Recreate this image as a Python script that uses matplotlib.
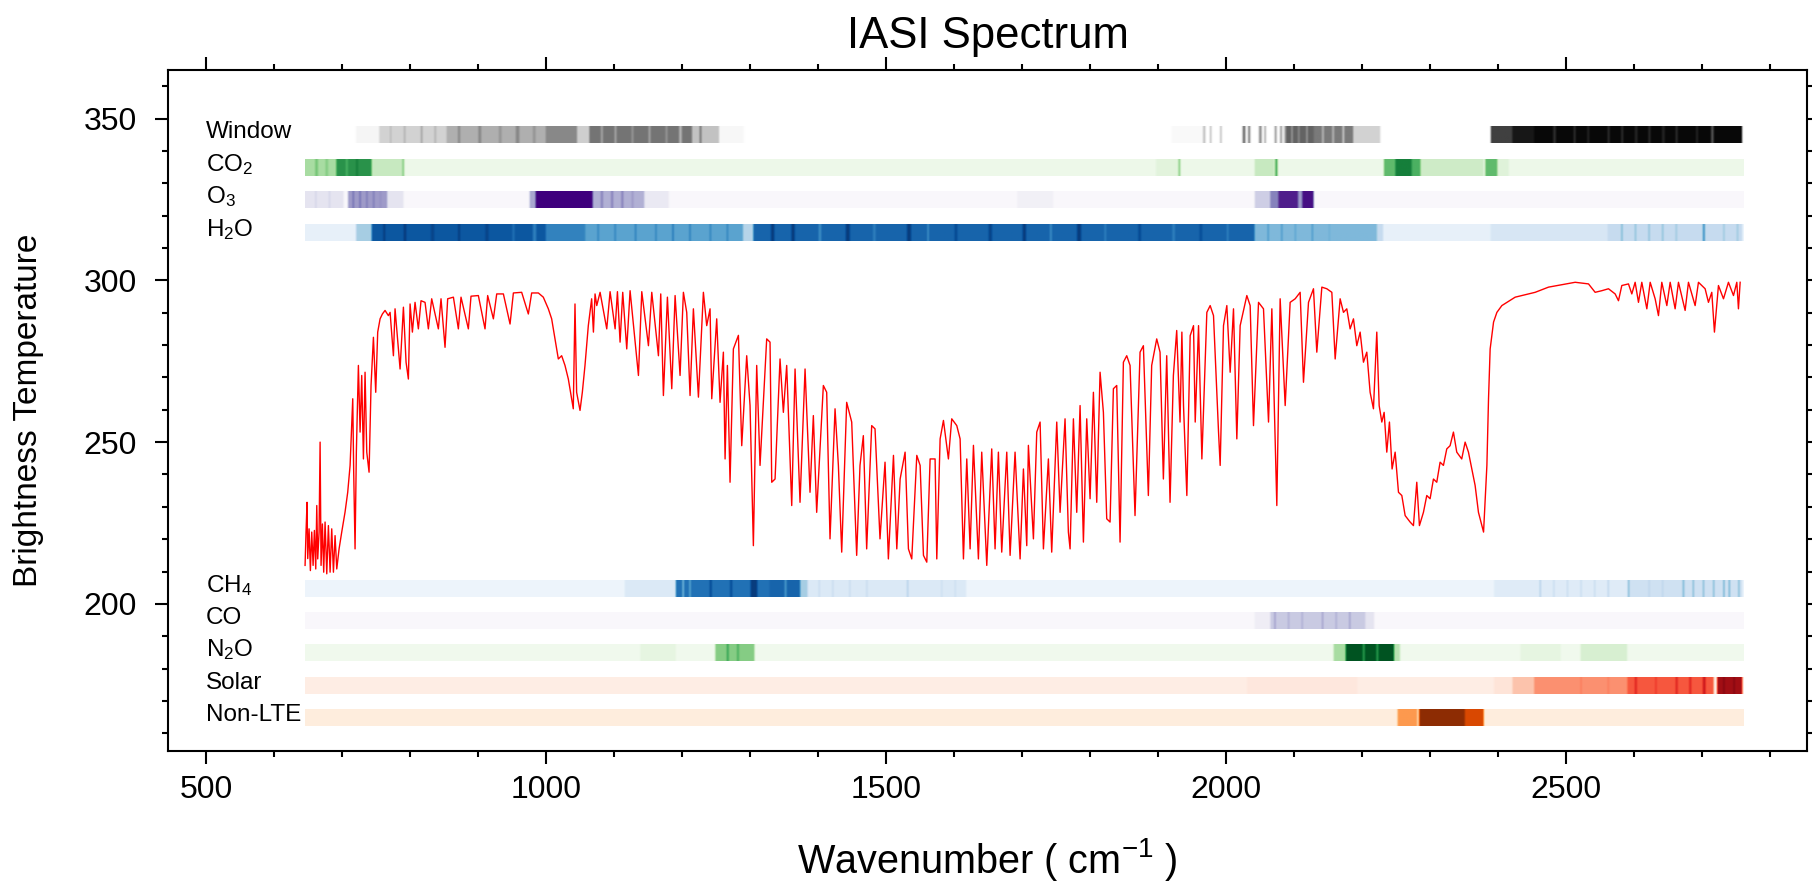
"""IASI brightness-temperature spectrum with gas sensitivity bands."""

import matplotlib

matplotlib.use("Agg")
import matplotlib.pyplot as plt  # noqa: E402
import numpy as np  # noqa: E402
from matplotlib.ticker import MultipleLocator  # noqa: E402

plt.rcParams["font.family"] = ["Liberation Sans", "DejaVu Sans"]
plt.rcParams["mathtext.default"] = "regular"

# spectrum (wavenumber cm-1, brightness temperature K)
wavenumber = [
    645.6, 647.0, 648.5, 649.5, 651.5, 653.4, 655.4, 657.4, 659.3, 661.3, 662.8, 664.2,
    666.2, 667.7, 669.1, 671.1, 673.0, 675.0, 677.5, 679.9, 682.4, 684.8, 687.3, 689.7,
    692.2, 695.6, 699.5, 704.4, 708.3, 711.8, 714.2, 715.7, 717.1, 719.1, 721.0, 724.0,
    726.5, 728.9, 731.4, 733.8, 736.3, 739.7, 742.6, 746.1, 749.5, 752.4, 755.9, 759.3,
    763.2, 768.1, 770.6, 775.5, 777.9, 785.3, 790.2, 794.1, 797.5, 800.0, 803.4, 807.3,
    812.2, 816.1, 822.0, 826.9, 831.8, 841.6, 845.5, 851.4, 855.3, 863.7, 871.0, 874.9,
    885.7, 889.6, 900.4, 910.2, 914.1, 922.5, 927.4, 937.2, 947.0, 951.9, 964.1, 973.9,
    978.8, 988.6, 995.9, 1003.3, 1008.2, 1013.1, 1018.0, 1022.9, 1027.8, 1032.7, 1037.6,
    1040.0, 1042.5, 1044.9, 1049.9, 1053.3, 1057.2, 1062.1, 1067.0,
    1069.6, 1072.0, 1074.5, 1079.4, 1089.2, 1094.1, 1101.5, 1104.9, 1108.8, 1112.7,
    1118.6, 1123.5, 1135.8, 1140.7, 1150.5, 1155.4, 1165.2, 1168.6, 1172.5, 1178.4,
    1184.8, 1189.7, 1197.0, 1201.9, 1206.8, 1211.7, 1216.6, 1224.0, 1231.3, 1236.2,
    1241.1, 1243.6, 1250.9, 1255.8, 1260.7, 1263.2, 1266.6, 1270.5, 1275.4, 1282.8,
    1287.7, 1295.0, 1299.9, 1304.8, 1309.7, 1314.6, 1324.4, 1329.3, 1331.8, 1336.7,
    1344.0, 1348.9, 1353.8, 1361.2, 1366.1, 1373.4, 1380.8, 1388.1, 1393.0, 1397.9,
    1407.7, 1412.6, 1417.5, 1424.9, 1429.8, 1434.7, 1442.0, 1449.4, 1456.7, 1461.6,
    1466.5, 1471.4, 1478.8, 1483.7, 1491.0, 1498.4, 1503.3,
    1510.8, 1515.7, 1520.6, 1527.9, 1532.8, 1537.7, 1545.1, 1550.0, 1554.9, 1559.8,
    1564.7, 1572.0, 1574.5, 1579.4, 1584.3, 1591.6, 1596.5, 1603.9, 1608.8, 1613.7,
    1618.6, 1623.5, 1628.4, 1635.7, 1640.6, 1648.0, 1655.3, 1660.2, 1665.1, 1670.0,
    1677.4, 1682.3, 1689.6, 1697.0, 1701.9, 1706.8, 1709.2, 1716.6, 1721.5, 1726.4,
    1731.3, 1738.6, 1743.5, 1750.9, 1755.8, 1763.1, 1768.0, 1770.5, 1775.4, 1780.3,
    1785.2, 1790.1, 1795.0, 1799.9, 1804.8, 1809.7, 1814.6, 1819.5, 1824.4, 1829.3,
    1834.2, 1839.1, 1844.0, 1848.9, 1853.8, 1858.7, 1866.0, 1873.4, 1878.3, 1885.6,
    1890.5, 1897.9, 1902.8, 1907.7, 1912.6, 1917.5, 1922.4, 1927.3, 1932.2,
    1934.9, 1937.3, 1942.2, 1947.1, 1952.0, 1954.5, 1959.4, 1964.3, 1971.6, 1976.5,
    1981.4, 1988.8, 1991.2, 1996.1, 2001.0, 2005.9, 2010.8, 2015.7, 2020.6, 2030.4,
    2035.3, 2040.2, 2047.6, 2054.9, 2062.3, 2067.2, 2074.5, 2079.4, 2086.8, 2094.1,
    2101.5, 2108.8, 2113.7, 2121.1, 2128.4, 2133.3, 2140.7, 2148.0, 2155.4, 2160.3,
    2167.6, 2172.5, 2177.4, 2182.3, 2187.2, 2192.1, 2197.0, 2201.9, 2206.8, 2211.7,
    2216.6, 2221.5, 2225.0, 2228.9, 2232.3, 2236.2, 2240.1, 2244.0, 2248.5, 2253.4,
    2258.3, 2263.2, 2270.5, 2275.4, 2280.3, 2284.2, 2290.1, 2295.0, 2299.9, 2304.8,
    2309.7, 2314.6, 2319.5, 2324.4, 2329.3, 2334.2, 2339.1, 2346.4, 2351.4, 2356.3,
    2361.2, 2366.1, 2371.0,
    2378.5, 2380.9, 2383.4, 2385.8, 2388.2, 2393.2, 2398.1, 2405.4, 2425.0, 2454.4,
    2474.0, 2513.2, 2532.8, 2542.6, 2552.4, 2562.2, 2572.0, 2576.9, 2581.8, 2591.6,
    2596.5, 2601.4, 2606.3, 2611.2, 2618.6, 2623.5, 2630.8, 2635.7, 2640.6, 2648.0,
    2652.9, 2660.2, 2665.1, 2674.9, 2679.8, 2689.6, 2694.5, 2704.3, 2709.2, 2714.1,
    2718.0, 2723.9, 2731.3, 2738.6, 2746.0, 2750.9, 2753.3, 2755.8,
]
brightness_temp = [
    211.9, 222.2, 231.4, 214.0, 223.2, 210.3, 222.2, 211.9, 222.7, 210.8, 230.4, 213.9,
    222.2, 250.0, 211.9, 224.7, 209.8, 225.3, 209.3, 224.2, 209.8, 223.2, 209.8, 221.1,
    210.8, 217.0, 222.2, 228.4, 234.5, 242.8, 255.1, 263.4, 240.7, 217.0, 246.9, 273.7,
    253.1, 270.6, 244.8, 271.6, 246.9, 240.7, 267.5, 282.4, 265.4, 284.0, 288.1, 289.6,
    290.7, 289.1, 290.1, 276.7, 291.2, 272.6, 291.7, 274.7, 269.5, 292.7, 284.0, 293.2,
    285.0, 293.7, 293.2, 285.0, 294.3, 285.0, 294.3, 279.3, 294.3, 294.8, 285.0, 294.8,
    285.0, 295.1, 295.3, 285.0, 295.3, 288.1, 295.8, 295.8, 286.5, 296.1, 296.3, 289.6,
    296.1, 296.1, 294.8, 291.2, 288.1, 281.9, 275.7, 276.7, 273.7, 269.5, 263.4,
    260.3, 292.7, 265.4, 259.8, 265.4, 273.7, 286.0, 294.3,
    284.0, 295.8, 292.2, 296.3, 285.0, 296.5, 285.0, 296.5, 280.9, 296.3,
    278.8, 296.8, 270.6, 296.5, 279.8, 296.3, 276.7, 295.8, 264.4, 294.8,
    266.5, 295.3, 270.6, 296.3, 290.1, 264.4, 291.2, 263.9, 296.3, 286.0,
    291.2, 263.4, 288.1, 262.3, 277.8, 244.8, 273.7, 237.6, 278.8, 283.0,
    248.9, 276.7, 261.3, 218.0, 273.7, 242.8, 281.9, 280.9, 237.6, 238.6,
    275.7, 259.2, 273.7, 230.4, 272.6, 231.4, 272.6, 234.5, 258.2, 228.3,
    267.5, 265.4, 220.1, 260.3, 242.8, 216.0, 262.3, 256.2, 215.0, 242.8,
    252.0, 217.0, 255.1, 254.1, 220.1, 243.8, 213.9,
    245.9, 217.0, 238.6, 246.9, 217.0, 213.9, 245.9, 242.8, 215.0, 212.9,
    244.8, 244.8, 213.9, 251.0, 256.7, 244.8, 257.2, 255.1, 251.0, 213.9,
    244.8, 217.0, 249.0, 213.9, 246.9, 211.9, 247.9, 217.0, 246.9, 216.0,
    246.9, 215.0, 246.9, 213.9, 241.7, 218.0, 249.0, 220.1, 253.1, 256.2,
    217.0, 244.8, 216.0, 256.2, 228.3, 257.2, 222.2, 217.0, 257.2, 228.3,
    261.3, 219.1, 257.2, 232.5, 265.4, 231.4, 271.6, 259.2, 226.3, 225.3,
    266.5, 267.5, 219.1, 274.7, 276.7, 273.7, 227.3, 277.8, 279.8, 233.5,
    273.7, 281.9, 277.8, 238.6, 276.7, 231.4, 270.6, 284.5, 256.2,
    284.0, 261.3, 233.5, 282.9, 286.0, 256.2, 286.0, 244.8, 290.1, 292.2,
    289.1, 253.1, 242.8, 286.0, 292.2, 271.6, 291.2, 251.0, 286.0, 295.3,
    292.2, 255.1, 293.2, 291.2, 256.2, 291.2, 230.4, 294.3, 261.3, 293.2,
    294.3, 296.3, 268.5, 293.2, 297.4, 277.8, 297.9, 297.4, 296.3, 275.7,
    294.3, 290.1, 291.2, 285.0, 288.1, 279.8, 284.0, 274.7, 277.8, 265.4,
    260.3, 284.0, 261.3, 256.2, 259.2, 246.9, 256.2, 241.7, 246.9, 234.5,
    233.5, 227.3, 225.3, 224.2, 237.6, 224.2, 228.3, 233.5, 232.5, 238.6,
    237.6, 243.8, 242.8, 247.9, 248.9, 253.1, 246.9, 244.8, 250.0, 246.9,
    241.7, 236.6, 228.3,
    222.2, 232.5, 242.8, 263.4, 278.8, 287.1, 290.1, 292.2, 294.8, 296.3,
    297.9, 299.4, 298.9, 296.3, 296.8, 297.4, 295.8, 293.7, 298.4, 298.9,
    295.8, 299.4, 293.2, 299.4, 291.2, 299.4, 294.3, 289.1, 299.4, 292.2,
    299.4, 291.2, 299.4, 290.7, 299.4, 292.2, 299.4, 297.4, 293.2, 296.3,
    284.0, 298.4, 294.3, 299.4, 295.3, 299.4, 291.2, 299.4,
]

# sensitivity strips: (start wavenumber, end wavenumber, shade 0..1)
band_names = ["Window", "CO$_2$", "O$_3$", "H$_2$O",
              "CH$_4$", "CO", "N$_2$O", "Solar", "Non-LTE"]
band_levels = [344.8, 334.8, 324.8, 314.7, 204.7, 194.6, 184.8, 174.5, 164.7]
band_cmaps = ["Greys", "Greens", "Purples", "Blues",
              "Blues", "Purples", "Greens", "Reds", "Oranges"]
band_base = [0.0, 0.07, 0.03, 0.05, 0.05, 0.03, 0.05, 0.05, 0.06]

window_segs = [
    (720, 754, 0.08), (754, 853, 0.28), (770, 772, 0.4), (790, 793, 0.4),
    (815, 818, 0.45), (835, 838, 0.4), (853, 999, 0.42), (870, 873, 0.55),
    (900, 904, 0.55), (930, 934, 0.5), (955, 960, 0.55), (980, 984, 0.5),
    (999, 1045, 0.55), (1045, 1063, 0.3), (1063, 1214, 0.62), (1080, 1083, 0.45),
    (1100, 1103, 0.45), (1125, 1128, 0.5), (1150, 1153, 0.45), (1175, 1178, 0.5),
    (1195, 1199, 0.4), (1214, 1254, 0.35), (1225, 1228, 0.6), (1254, 1290, 0.06),
    (1919, 1965, 0.05), (1965, 1969, 0.35), (1975, 1978, 0.35), (1990, 1993, 0.35),
    (2023, 2028, 0.6), (2031, 2035, 0.55), (2047, 2052, 0.5), (2055, 2058, 0.45),
    (2070, 2074, 0.45), (2078, 2082, 0.45), (2084, 2087, 0.4), (2087, 2128, 0.68),
    (2095, 2097, 0.45), (2105, 2107, 0.5), (2117, 2119, 0.45), (2128, 2186, 0.6),
    (2140, 2143, 0.4), (2155, 2158, 0.4), (2170, 2173, 0.35), (2186, 2226, 0.28),
    (2388, 2420, 0.8), (2420, 2452, 0.92), (2452, 2758, 0.97), (2480, 2484, 0.85),
    (2510, 2513, 0.85), (2530, 2533, 0.88), (2560, 2563, 0.85), (2580, 2583, 0.85),
    (2600, 2604, 0.88), (2620, 2623, 0.85), (2640, 2644, 0.88), (2660, 2663, 0.85),
    (2690, 2693, 0.88), (2712, 2716, 0.75),
]
co2_segs = [
    (645, 691, 0.35), (660, 664, 0.5), (675, 679, 0.45), (691, 743, 0.72),
    (705, 708, 0.6), (720, 723, 0.8), (743, 788, 0.25), (788, 791, 0.45),
    (1896, 1929, 0.14), (1929, 1932, 0.45), (2041, 2070, 0.25), (2071, 2075, 0.6),
    (2231, 2248, 0.55), (2248, 2272, 0.8), (2272, 2285, 0.6), (2285, 2378, 0.22),
    (2380, 2398, 0.55), (2398, 2415, 0.15),
]
o3_segs = [
    (645, 702, 0.18), (660, 662, 0.3), (680, 682, 0.3), (708, 766, 0.5),
    (715, 717, 0.7), (725, 727, 0.7), (735, 737, 0.65), (745, 747, 0.65),
    (755, 757, 0.55), (766, 790, 0.18), (975, 984, 0.45), (984, 1068, 1.0),
    (1068, 1144, 0.42), (1080, 1083, 0.6), (1095, 1098, 0.6), (1110, 1113, 0.6),
    (1125, 1128, 0.5), (1144, 1180, 0.15), (1692, 1745, 0.1), (2041, 2064, 0.3),
    (2064, 2076, 0.6), (2076, 2105, 0.9), (2105, 2111, 0.5), (2111, 2128, 0.95),
]
h2o_segs = [
    (645, 720, 0.08), (720, 743, 0.35), (743, 999, 0.85), (760, 763, 0.95),
    (790, 794, 0.95), (830, 835, 0.92), (870, 873, 0.95), (910, 915, 0.92),
    (950, 953, 0.75), (980, 985, 0.7), (999, 1057, 0.68), (1057, 1289, 0.55),
    (1075, 1077, 0.7), (1100, 1102, 0.7), (1130, 1132, 0.72), (1160, 1162, 0.7),
    (1185, 1187, 0.75), (1210, 1212, 0.72), (1240, 1242, 0.7), (1265, 1267, 0.7),
    (1289, 1304, 0.3), (1304, 2041, 0.8), (1330, 1335, 0.95), (1360, 1365, 0.95),
    (1400, 1404, 0.65), (1440, 1446, 0.95), (1480, 1484, 0.7), (1530, 1536, 0.95),
    (1560, 1562, 0.6), (1600, 1604, 0.9), (1650, 1655, 0.92), (1700, 1705, 0.95),
    (1740, 1743, 0.65), (1780, 1786, 0.95), (1820, 1823, 0.7), (1870, 1874, 0.9),
    (1920, 1924, 0.7), (1960, 1964, 0.88), (2000, 2003, 0.7), (2041, 2221, 0.45),
    (2060, 2062, 0.6), (2080, 2082, 0.6), (2100, 2102, 0.55), (2125, 2127, 0.6),
    (2150, 2152, 0.5), (2180, 2182, 0.45), (2221, 2230, 0.25), (2230, 2388, 0.08),
    (2388, 2560, 0.16), (2560, 2758, 0.25), (2580, 2582, 0.5), (2600, 2602, 0.45),
    (2620, 2622, 0.45), (2640, 2642, 0.45), (2660, 2662, 0.4), (2700, 2703, 0.65),
    (2730, 2732, 0.4), (2750, 2752, 0.4),
]
ch4_segs = [
    (1115, 1190, 0.14), (1190, 1328, 0.75), (1200, 1202, 0.4), (1210, 1212, 0.5),
    (1240, 1243, 0.9), (1270, 1273, 0.9), (1300, 1310, 0.95), (1328, 1373, 0.8),
    (1350, 1353, 0.6), (1373, 1384, 0.35), (1384, 1617, 0.14), (1400, 1402, 0.25),
    (1420, 1422, 0.25), (1445, 1447, 0.25), (1470, 1472, 0.25), (1530, 1532, 0.35),
    (1580, 1582, 0.22), (1600, 1602, 0.22), (2393, 2589, 0.12), (2460, 2462, 0.35),
    (2480, 2482, 0.25), (2500, 2502, 0.25), (2520, 2522, 0.25), (2540, 2542, 0.25),
    (2560, 2562, 0.3), (2589, 2758, 0.2), (2590, 2592, 0.5), (2620, 2622, 0.3),
    (2640, 2642, 0.3), (2670, 2673, 0.45), (2685, 2687, 0.5), (2700, 2702, 0.5),
    (2715, 2717, 0.5), (2730, 2732, 0.55), (2738, 2740, 0.55), (2752, 2754, 0.5),
]
co_segs = [
    (2041, 2064, 0.12), (2064, 2204, 0.32), (2070, 2072, 0.5), (2090, 2092, 0.45),
    (2110, 2112, 0.45), (2140, 2142, 0.5), (2160, 2162, 0.45), (2180, 2182, 0.5),
    (2204, 2217, 0.18),
]
n2o_segs = [
    (1138, 1190, 0.12), (1248, 1306, 0.45), (1265, 1268, 0.65), (1280, 1283, 0.6),
    (2157, 2175, 0.35), (2175, 2246, 0.95), (2200, 2203, 0.7), (2220, 2223, 0.7),
    (2246, 2255, 0.3), (2432, 2491, 0.12), (2520, 2589, 0.18),
]
solar_segs = [
    (2030, 2192, 0.08), (2393, 2420, 0.1), (2420, 2452, 0.22), (2452, 2589, 0.38),
    (2520, 2522, 0.45), (2560, 2562, 0.45), (2589, 2716, 0.55), (2600, 2603, 0.7),
    (2630, 2632, 0.65), (2660, 2663, 0.7), (2680, 2683, 0.7), (2700, 2704, 0.75),
    (2721, 2758, 0.88), (2730, 2732, 0.95), (2745, 2747, 0.95),
]
nonlte_segs = [
    (2251, 2280, 0.45), (2280, 2283, 0.2), (2283, 2350, 0.95), (2350, 2378, 0.75),
]
band_segs = [window_segs, co2_segs, o3_segs, h2o_segs,
             ch4_segs, co_segs, n2o_segs, solar_segs, nonlte_segs]

WN_START, WN_END = 645, 2760
STRIP_HEIGHT = 5.0


def strip_values(base, segs, grid):
    vals = np.full(grid.shape, base)
    for start, end, level in segs:
        vals[(grid >= start) & (grid < end)] = level
    # slight blur so the strips look like the soft original raster
    kernel = np.ones(7) / 7
    padded = np.pad(vals, 3, mode="edge")
    return np.convolve(padded, kernel, mode="valid")


fig = plt.figure(figsize=(18.12, 8.91), dpi=100)
ax = fig.add_axes([0.0927, 0.157, 0.9045, 0.7644])

grid = np.arange(WN_START, WN_END + 0.5, 0.5)
for name, level, cmap, base, segs in zip(band_names, band_levels, band_cmaps,
                                         band_base, band_segs):
    vals = strip_values(base, segs, grid)
    ax.imshow(vals[np.newaxis, :], cmap=cmap, vmin=0, vmax=1, aspect="auto",
              interpolation="bilinear",
              extent=[WN_START, WN_END, level - STRIP_HEIGHT / 2, level + STRIP_HEIGHT / 2])
    ax.text(500, level + 1.0, name, fontsize=17.5, ha="left", va="center")

ax.plot(wavenumber, brightness_temp, color="red", lw=1.0)

ax.set_xlim(444, 2854)
ax.set_ylim(154.5, 365)
ax.xaxis.set_major_locator(MultipleLocator(500))
ax.xaxis.set_minor_locator(MultipleLocator(100))
ax.yaxis.set_major_locator(MultipleLocator(50))
ax.yaxis.set_minor_locator(MultipleLocator(10))
ax.tick_params(which="both", direction="out", top=True, right=True, width=1.5)
ax.tick_params(which="major", length=9.5, labelsize=23)
ax.tick_params(axis="x", which="major", pad=8)
ax.tick_params(axis="y", which="major", pad=13)
ax.tick_params(which="minor", length=4.5)
for spine in ax.spines.values():
    spine.set_linewidth(1.5)

ax.set_title("IASI Spectrum", fontsize=31.5, pad=16)
ax.set_xlabel("Wavenumber ( cm$^{-1}$ )", fontsize=28.5, labelpad=22)
ax.set_ylabel("Brightness Temperature", fontsize=24, labelpad=28)

fig.savefig("out.png", dpi=100)
